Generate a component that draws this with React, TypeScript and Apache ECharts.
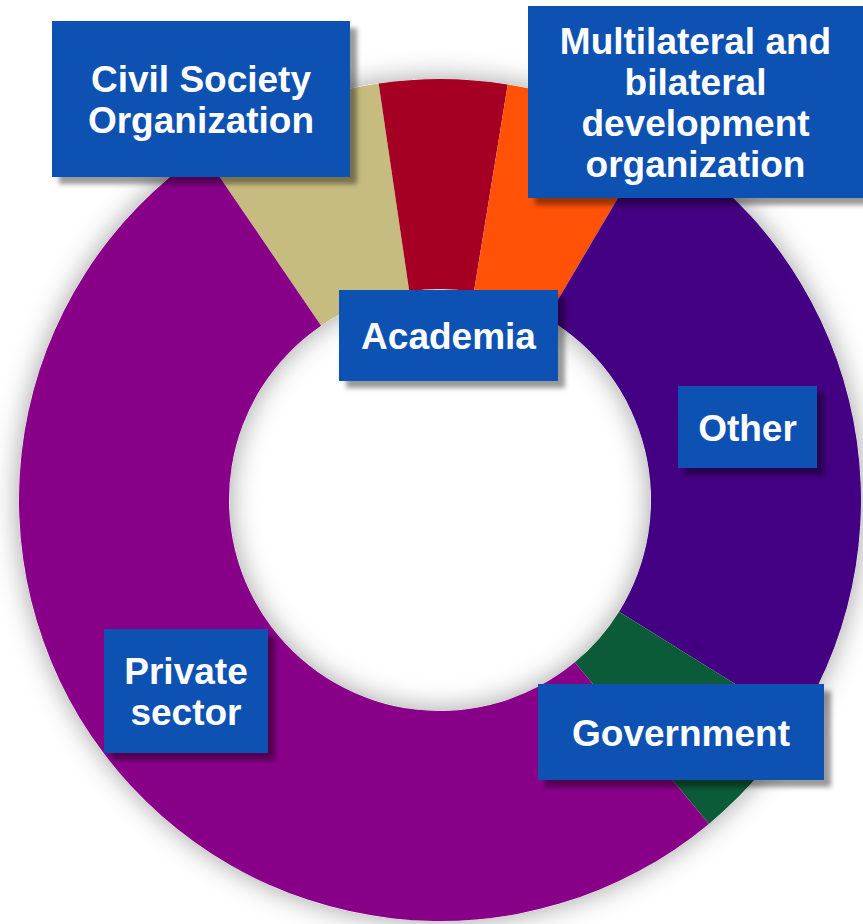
import React, { useEffect, useRef } from "react";
import * as echarts from "echarts";

// Data (share of respondents, %), clockwise starting from the Civil Society slice
const categories = [
  "Civil Society Organization",
  "Academia",
  "Multilateral and bilateral development organization",
  "Other",
  "Government",
  "Private sector",
];
const values = [7.2, 4.9, 5.9, 25.4, 5.1, 51.5];
const sliceColors = ["#C7BC80", "#A50024", "#FF5206", "#430082", "#0C5B38", "#880088"];

// Label boxes (text shown in the callout boxes)
const boxTexts = [
  "Civil Society\nOrganization",
  "Academia",
  "Multilateral and\nbilateral\ndevelopment\norganization",
  "Other",
  "Government",
  "Private\nsector",
];
// layout of boxes: [x, y, width, height]
const boxLayout: number[][] = [
  [52, 21, 298, 156],
  [339, 290, 219, 91],
  [528, 6, 335, 192],
  [678, 386, 139, 82],
  [538, 684, 286, 96],
  [104, 629, 164, 124],
];

const FONT = '"Liberation Sans", Arial, Helvetica, sans-serif';

export default function App() {
  const ref = useRef<HTMLDivElement>(null);
  useEffect(() => {
    if (!ref.current) return;
    const chart = echarts.init(ref.current, undefined, { renderer: "svg" });
    const graphics: any[] = [];
    boxLayout.forEach((b, i) => {
      graphics.push({
        type: "rect",
        shape: { x: b[0], y: b[1], width: b[2], height: b[3] },
        style: {
          fill: "#0A51B3",
          shadowBlur: 5,
          shadowOffsetX: 7,
          shadowOffsetY: 7,
          shadowColor: "rgba(0,0,0,0.4)",
        },
        z: 10,
        silent: true,
      });
      graphics.push({
        type: "text",
        x: b[0] + b[2] / 2,
        y: b[1] + b[3] / 2 + 1,
        style: {
          text: boxTexts[i],
          fill: "#FFFFFF",
          font: `bold 37px ${FONT}`,
          align: "center",
          verticalAlign: "middle",
          lineHeight: 41,
        },
        z: 11,
        silent: true,
      });
    });
    chart.setOption({
      animation: false,
      graphic: graphics,
      series: [
        {
          type: "pie",
          silent: true,
          center: [440, 500],
          radius: [211, 421],
          label: { show: false },
          labelLine: { show: false },
          itemStyle: {
            color: "#ffffff",
            shadowBlur: 28,
            shadowColor: "rgba(0,0,0,0.38)",
          },
          data: [{ value: 1, name: "shadow" }],
          z: 1,
        },
        {
          type: "pie",
          silent: true,
          center: [440, 500],
          radius: [211, 421],
          startAngle: 124.3,
          clockwise: true,
          label: { show: false },
          labelLine: { show: false },
          itemStyle: { borderWidth: 0 },
          data: categories.map((c, i) => ({
            name: c,
            value: values[i],
            itemStyle: { color: sliceColors[i] },
          })),
          z: 2,
        },
      ],
    });
    return () => chart.dispose();
  }, []);
  return (
    <div
      ref={ref}
      style={{ position: "fixed", left: 0, top: 0, width: 863, height: 924, background: "#ffffff" }}
    />
  );
}
